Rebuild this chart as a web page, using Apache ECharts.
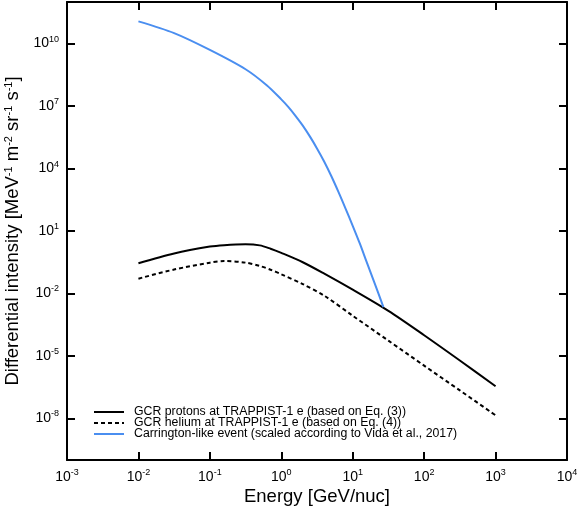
<!DOCTYPE html>
<html>
<head>
<meta charset="UTF-8">
<title></title>
<script src="https://cdn.jsdelivr.net/npm/echarts@6/dist/echarts.min.js"></script>
<style>
html, body { margin: 0; padding: 0; background: #fff; }
#main { width: 581px; height: 506px; }
</style>
</head>
<body>
<div id="main"></div>
<script>
// GCR spectra (GeV/nuc -> MeV^-1 m^-2 sr^-1 s^-1)
var energyGcr = [0.01, 0.0316, 0.1, 0.158, 0.316, 0.5, 0.708, 1, 2, 4, 10, 31.6, 100, 316, 1000];
var protonFlux = [0.28, 0.83, 1.78, 2.09, 2.29, 2.04, 1.41, 0.89, 0.316, 0.089, 0.0151, 1.45e-3, 9.8e-5, 6.0e-6, 3.5e-7];
var heliumFlux = [0.0513, 0.141, 0.302, 0.363, 0.302, 0.209, 0.138, 0.0832, 0.0282, 7.8e-3, 8.5e-4, 5.4e-5, 3.4e-6, 2.2e-7, 1.4e-8];
// Carrington-like event
var energyCme = [0.01, 0.0316, 0.1, 0.316, 0.631, 1, 1.26, 1.58, 2.0, 2.51, 3.16, 3.98, 5.01, 6.31, 7.94, 10, 12.6, 15.8, 20.0, 26.9];
var cmeFlux = [1.17e11, 3.2e10, 5.0e9, 5.9e8, 9.8e7, 2.1e7, 8.9e6, 3.4e6, 1.15e6, 3.5e5, 9.3e4, 2.2e4, 4.4e3, 7.6e2, 1.2e2, 17.8, 2.45, 0.30, 0.035, 2.2e-3];

var xTicks = [1e-3, 1e-2, 1e-1, 1, 1e1, 1e2, 1e3, 1e4];
var yTicks = [1e-8, 1e-5, 1e-2, 1e1, 1e4, 1e7, 1e10];
var seriesNames = [
    'GCR protons at TRAPPIST-1 e (based on Eq. (3))',
    'GCR helium at TRAPPIST-1 e (based on Eq. (4))',
    'Carrington-like event (scaled according to Vida et al., 2017)'
];

function pairs(xs, ys) {
    return xs.map(function (x, i) { return [x, ys[i]]; });
}

function powLabel(v) {
    var e = Math.round(Math.log10(v));
    return '{b|10}{s|' + e + '}';
}

var font = 'Liberation Sans, Arial, sans-serif';
var labelRich = {
    b: { fontSize: 14, fontFamily: font, color: '#000', lineHeight: 18 },
    s: { fontSize: 9, fontFamily: font, color: '#000', verticalAlign: 'top', lineHeight: 18, padding: [0, 0, 7, 0] }
};
var lineStyle = { color: '#000', width: 2 };

var myChart = echarts.init(document.getElementById('main'), null, { renderer: 'canvas' });
myChart.setOption({
    animation: false,
    backgroundColor: '#fff',
    grid: { left: 67, right: 14, top: 2, bottom: 46, outerBoundsMode: 'none', containLabel: false },
    legend: {
        orient: 'vertical',
        left: 88,
        top: 401,
        itemWidth: 30,
        itemHeight: 10,
        itemGap: -1,
        data: seriesNames,
        itemStyle: { opacity: 0 },
        textStyle: { fontSize: 12.3, lineHeight: 11, fontFamily: font, color: '#000', padding: [0, 0, 0, 5] }
    },
    xAxis: [{
        type: 'log',
        min: 1e-3,
        max: 1e4,
        name: 'Energy [GeV/nuc]',
        nameLocation: 'middle',
        nameGap: 27,
        nameMoveOverlap: false,
        nameTextStyle: { fontSize: 18.5, fontFamily: font, color: '#000' },
        axisLine: { show: true, lineStyle: lineStyle },
        axisTick: { show: true, inside: true, length: 8, lineStyle: lineStyle, customValues: xTicks },
        axisLabel: { margin: 8, formatter: powLabel, rich: labelRich, customValues: xTicks },
        splitLine: { show: false },
        minorTick: { show: false }
    }, {
        type: 'log',
        position: 'top',
        min: 1e-3,
        max: 1e4,
        axisLine: { show: true, lineStyle: lineStyle },
        axisTick: { show: true, inside: true, length: 8, lineStyle: lineStyle, customValues: xTicks },
        axisLabel: { show: false },
        splitLine: { show: false }
    }],
    yAxis: [{
        type: 'log',
        min: 1e-10,
        max: 1e12,
        name: 'Differential intensity [MeV{s|-1} m{s|-2} sr{s|-1} s{s|-1}]',
        nameLocation: 'middle',
        nameGap: 45,
        nameMoveOverlap: false,
        nameTextStyle: {
            fontSize: 18.5, fontFamily: font, color: '#000',
            rich: { s: { fontSize: 11, fontFamily: font, color: '#000', verticalAlign: 'top', padding: [0, 0, 8, 0] } }
        },
        axisLine: { show: true, lineStyle: lineStyle },
        axisTick: { show: true, inside: true, length: 8, lineStyle: lineStyle, customValues: yTicks },
        axisLabel: { margin: 8, formatter: powLabel, rich: labelRich, customValues: yTicks },
        splitLine: { show: false }
    }, {
        type: 'log',
        position: 'right',
        min: 1e-10,
        max: 1e12,
        axisLine: { show: true, lineStyle: lineStyle },
        axisTick: { show: true, inside: true, length: 8, lineStyle: lineStyle, customValues: yTicks },
        axisLabel: { show: false },
        splitLine: { show: false }
    }],
    series: [{
        name: seriesNames[0],
        type: 'line',
        data: pairs(energyGcr, protonFlux),
        symbol: 'none',
        smooth: 0.3,
        lineStyle: { color: '#000', width: 2 },
        itemStyle: { color: '#000' }
    }, {
        name: seriesNames[1],
        type: 'line',
        data: pairs(energyGcr, heliumFlux),
        symbol: 'none',
        smooth: 0.3,
        lineStyle: { color: '#000', width: 2, type: [4, 3] },
        itemStyle: { color: '#000' }
    }, {
        name: seriesNames[2],
        type: 'line',
        data: pairs(energyCme, cmeFlux),
        symbol: 'none',
        smooth: 0.3,
        lineStyle: { color: '#4a8ef0', width: 2 },
        itemStyle: { color: '#4a8ef0' }
    }]
});
window.onresize = function () { myChart.resize(); };
</script>
</body>
</html>
